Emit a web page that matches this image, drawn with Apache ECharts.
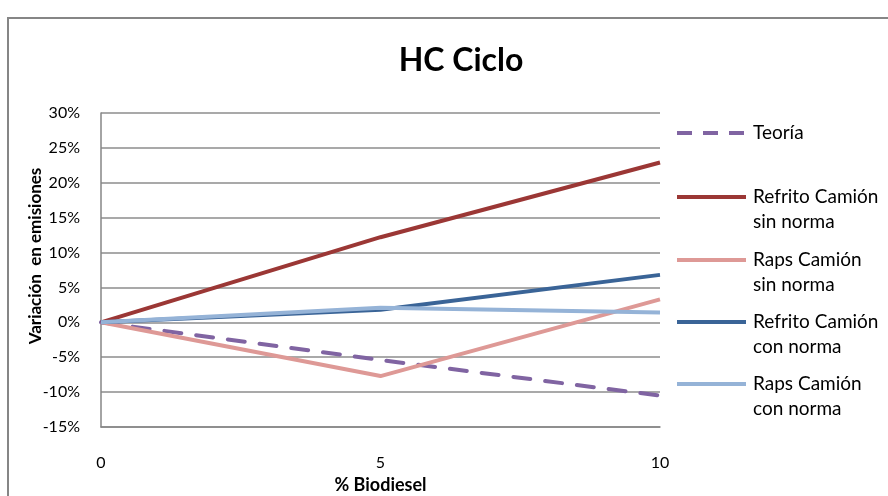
<!DOCTYPE html>
<html>
<head>
<meta charset="utf-8">
<script src="https://cdn.jsdelivr.net/npm/echarts@6/dist/echarts.min.js"></script>
<style>
  html, body { margin: 0; padding: 0; background: #fff; }
  #chart { width: 888px; height: 496px; }
</style>
</head>
<body>
<div id="chart"></div>
<script>
// % biodiesel blend
const blends = [0, 5, 10];
// Variation in HC emissions, in percent
const teoria = [0, -5.4, -10.5];
const refritoSinNorma = [0, 12.2, 22.9];
const rapsSinNorma = [0, -7.7, 3.3];
const refritoConNorma = [0, 1.8, 6.8];
const rapsConNorma = [0, 2.1, 1.4];

const yTicks = { min: -15, max: 30, step: 5 };

const seriesDefs = [
  { name: 'Teoría', label: 'Teoría', values: teoria, color: '#8064A2', dashed: true },
  { name: 'Refrito Camión sin norma', label: 'Refrito Camión\nsin norma', values: refritoSinNorma, color: '#9B3735' },
  { name: 'Raps Camión sin norma', label: 'Raps Camión\nsin norma', values: rapsSinNorma, color: '#DE9996' },
  { name: 'Refrito Camión con norma', label: 'Refrito Camión\ncon norma', values: refritoConNorma, color: '#3A6497' },
  { name: 'Raps Camión con norma', label: 'Raps Camión\ncon norma', values: rapsConNorma, color: '#95B3D7' }
];

// vertical centre of each legend entry's first line
const legendRows = [133, 197, 260, 322, 384];

const font = 'Lato, "Open Sans", sans-serif';
const lineH = 25;

const chart = echarts.init(document.getElementById('chart'), null, { renderer: 'canvas' });

const legends = seriesDefs.map((s, i) => ({
  data: [s.name],
  left: 675,
  top: legendRows[i] - lineH * 1.5,
  orient: 'vertical',
  selectedMode: false,
  itemWidth: 69,
  itemHeight: 10,
  itemGap: 0,
  padding: 0,
  itemStyle: { opacity: 0 },
  lineStyle: s.dashed
    ? { width: 4, type: [15, 11], cap: 'butt' }
    : { width: 4, cap: 'butt' },
  // an empty line above keeps the key line level with the first text line
  formatter: () => '\n' + s.label + (s.label.indexOf('\n') < 0 ? '\n' : ''),
  textStyle: { fontFamily: font, fontSize: 19, color: '#000', lineHeight: lineH, padding: [0, 0, 0, 2] }
}));

chart.setOption({
  animation: false,
  title: {
    text: 'HC Ciclo',
    left: 456,
    top: 40,
    textAlign: 'center',
    textStyle: { fontFamily: font, fontSize: 32, fontWeight: 'bold', color: '#000' }
  },
  legend: legends,
  grid: { left: 101, top: 113, right: 228, bottom: 69, containLabel: false, outerBoundsMode: 'none' },
  xAxis: {
    type: 'value',
    min: 0,
    max: 10,
    interval: 5,
    name: '% Biodiesel',
    nameLocation: 'middle',
    nameGap: 49,
    nameTextStyle: { fontFamily: font, fontSize: 18, fontWeight: 'bold', color: '#000' },
    axisLine: { show: true, onZero: false, lineStyle: { color: '#868686', width: 1.5 } },
    axisTick: { show: false },
    splitLine: { show: false },
    axisLabel: { fontFamily: font, fontSize: 16, color: '#000', margin: 28 }
  },
  yAxis: {
    type: 'value',
    min: yTicks.min,
    max: yTicks.max,
    interval: yTicks.step,
    axisLine: { show: true, lineStyle: { color: '#868686', width: 1.5 } },
    axisTick: { show: false },
    splitLine: { show: true, lineStyle: { color: '#8c8c8c', width: 1.5 } },
    axisLabel: { fontFamily: font, fontSize: 16, color: '#000', margin: 21, formatter: '{value}%' }
  },
  graphic: [
    {
      type: 'rect',
      shape: { x: 8, y: 18, width: 900, height: 500 },
      style: { fill: null, stroke: '#868686', lineWidth: 2 },
      silent: true
    },
    {
      type: 'text',
      x: 36,
      y: 256,
      rotation: Math.PI / 2,
      style: {
        text: 'Variación  en emisiones',
        fontFamily: font,
        fontSize: 17,
        fontWeight: 'bold',
        fill: '#000',
        align: 'center',
        verticalAlign: 'middle'
      },
      silent: true
    }
  ],
  series: seriesDefs.map(s => ({
    name: s.name,
    type: 'line',
    data: blends.map((b, i) => [b, s.values[i]]),
    symbol: 'none',
    color: s.color,
    lineStyle: s.dashed
      ? { color: s.color, width: 4, type: [17, 15], cap: 'round' }
      : { color: s.color, width: 4 },
    z: 3
  }))
});
</script>
</body>
</html>
